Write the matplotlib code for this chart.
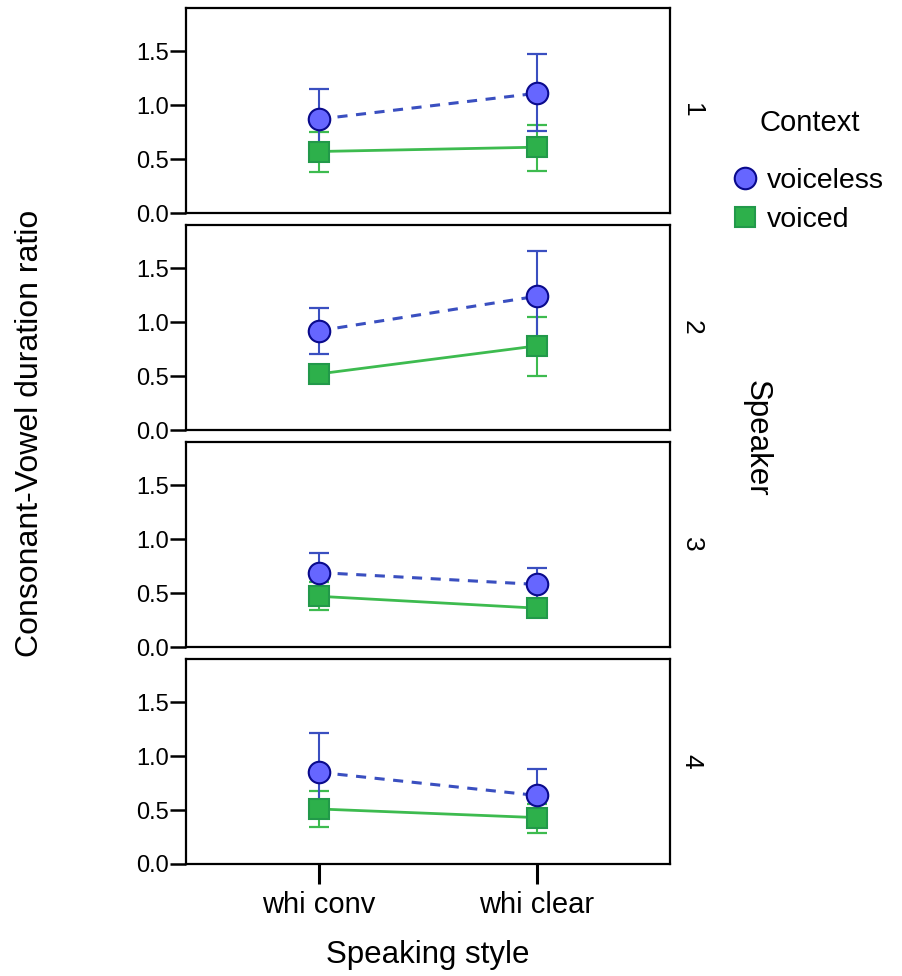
import numpy as np
import matplotlib.pyplot as plt

plt.rcParams['font.family'] = ['Liberation Sans', 'DejaVu Sans']

styles = ['whi conv', 'whi clear']
speakers = ['1', '2', '3', '4']

# means per speaker, [conv, clear]
voiceless_mean = [[0.87, 1.11], [0.92, 1.24], [0.69, 0.58], [0.85, 0.635]]
voiceless_lo = [[0.59, 0.76], [0.70, 0.82], [0.51, 0.44], [0.49, 0.39]]
voiceless_hi = [[1.15, 1.47], [1.13, 1.66], [0.87, 0.73], [1.21, 0.88]]

voiced_mean = [[0.57, 0.61], [0.52, 0.78], [0.47, 0.36], [0.51, 0.43]]
voiced_lo = [[0.38, 0.39], [0.47, 0.50], [0.34, 0.33], [0.34, 0.29]]
voiced_hi = [[0.75, 0.82], [0.57, 1.05], [0.60, 0.40], [0.68, 0.56]]

blue_face = '#6666FF'
blue_edge = '#0A0A8C'
blue_line = '#3A4FC0'
green_face = '#2DB04B'
green_edge = '#22994A'
green_line = '#3DBB4F'

W, H = 902, 976
fig = plt.figure(figsize=(W / 100, H / 100), dpi=100)

left, right = 186, 670
tops = [8, 225, 442, 659]
ph = 205
x = np.arange(len(styles))

for i, top in enumerate(tops):
    ax = fig.add_axes([left / W, 1 - (top + ph) / H, (right - left) / W, ph / H])
    m1 = np.array(voiceless_mean[i])
    m2 = np.array(voiced_mean[i])
    e1 = [m1 - np.array(voiceless_lo[i]), np.array(voiceless_hi[i]) - m1]
    e2 = [m2 - np.array(voiced_lo[i]), np.array(voiced_hi[i]) - m2]

    ax.errorbar(x, m2, yerr=e2, fmt='none', ecolor=green_line, elinewidth=1.5,
                capsize=7.3, capthick=1.6, zorder=2)
    ax.errorbar(x, m1, yerr=e1, fmt='none', ecolor=blue_line, elinewidth=1.5,
                capsize=7.3, capthick=1.6, zorder=2)
    ax.plot(x, m2, '-', color=green_line, lw=2, zorder=3)
    ax.plot(x, m1, '--', color=blue_line, lw=2.2, dashes=(3.3, 2.8), zorder=3)
    ax.plot(x, m2, 's', ms=15, mfc=green_face, mec=green_edge, mew=1.5, ls='none', zorder=4,
            label='voiced')
    ax.plot(x, m1, 'o', ms=15.5, mfc=blue_face, mec=blue_edge, mew=1.5, ls='none', zorder=5,
            label='voiceless')

    ax.set_xlim(-0.61, 1.61)
    ax.set_ylim(0, 1.9)
    ax.set_yticks([0, 0.5, 1.0, 1.5])
    ax.set_yticklabels(['0.0', '0.5', '1.0', '1.5'])
    ax.tick_params(axis='y', direction='out', length=11.5, width=1.8, labelsize=17, pad=1)
    for s in ax.spines.values():
        s.set_linewidth(1.6)
    if i < 3:
        ax.set_xticks([])
    else:
        ax.set_xticks(x)
        ax.set_xticklabels(styles)
        ax.tick_params(axis='x', direction='out', length=14.5, width=2.2, labelsize=21, pad=5)
    ax.text(1.045, 0.5, speakers[i], transform=ax.transAxes, rotation=-90,
            ha='center', va='center', fontsize=19)
    if i == 0:
        handles, labels = ax.get_legend_handles_labels()

fig.text(30 / W, 1 - 433 / H, 'Consonant-Vowel duration ratio', rotation=90,
         ha='center', va='center', fontsize=23)
fig.text(428 / W, 1 - 955 / H, 'Speaking style', ha='center', va='center', fontsize=22.5)
fig.text(757 / W, 1 - 438 / H, 'Speaker', rotation=-90, ha='center', va='center', fontsize=22.5)

leg = fig.legend(handles[::-1], labels[::-1], title='Context', loc='upper left',
                 bbox_to_anchor=(721 / W, 1 - 95 / H), frameon=False, fontsize=20.5,
                 title_fontsize=21, handlelength=0.7, handletextpad=0.4,
                 labelspacing=0.45, borderpad=0, markerscale=1.0)
leg._legend_box.sep = 22

fig.savefig('out.png', dpi=100)
